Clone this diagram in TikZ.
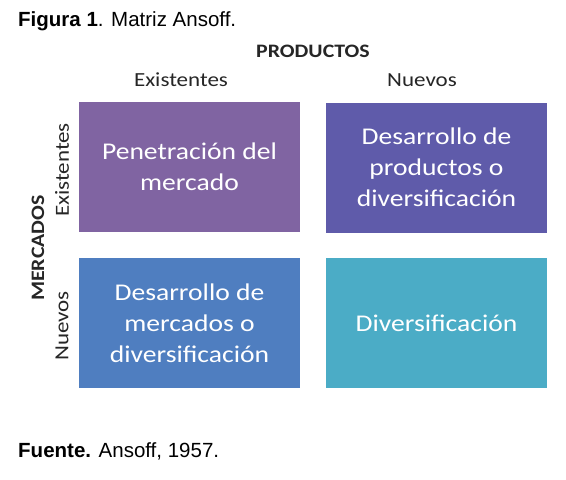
\documentclass[tikz,border=0pt]{standalone}
\usepackage{fontspec}
\setmainfont{Carlito}[FakeStretch=1.15]
\newfontfamily\arialfont{Liberation Sans}
\definecolor{morado}{HTML}{8064A2}
\definecolor{violeta}{HTML}{5F5BAA}
\definecolor{azul}{HTML}{4F7EC0}
\definecolor{turquesa}{HTML}{4BACC6}
\definecolor{texto}{HTML}{262626}
\tikzset{
	celda/.style={minimum width=221pt, minimum height=130pt, inner sep=0pt,
		text=white, align=center, font=\fontsize{24}{31}\selectfont},
	etiqueta/.style={text=texto, inner sep=0pt, font=\fontsize{20}{24}\selectfont},
	titulo/.style={text=texto, inner sep=0pt, font=\fontsize{19}{22}\selectfont\bfseries},
	pie/.style={anchor=base west, inner sep=0pt, font=\arialfont\fontsize{20.5}{24}\selectfont}
}
\begin{document}
\begin{tikzpicture}[x=1pt, y=-1pt]
		\useasboundingbox [fill=white] ( 0, 0 ) rectangle ( 566, 480 );

		% titulo de la figura
		\node [pie] (fig) at ( 18, 26 ) {\textbf{Figura 1}. Matriz Ansoff.};

		% ejes
		\node [titulo] (prod) at ( 313, 51 ) {PRODUCTOS};
		\node [etiqueta] (pexist) at ( 181, 80 ) {Existentes};
		\node [etiqueta] (pnuevo) at ( 422, 80 ) {Nuevos};
		\node [titulo, rotate=90] (merc) at ( 38, 248 ) {MERCADOS};
		\node [etiqueta, rotate=90] (mexist) at ( 62, 170 ) {Existentes};
		\node [etiqueta, rotate=90] (mnuevo) at ( 62, 326 ) {Nuevos};

		% cuadrantes
		\node [celda, fill=morado] (penet) at ( 189.5, 167 ) {Penetración del\\mercado};
		\node [celda, fill=violeta] (dprod) at ( 436.5, 167.5 ) {Desarrollo de\\productos o\\diversificación};
		\node [celda, fill=azul] (dmerc) at ( 189.5, 323 ) {Desarrollo de\\mercados o\\diversificación};
		\node [celda, fill=turquesa] (diver) at ( 436.5, 323 ) {Diversificación};

		% fuente
		\node [pie] (fuente) at ( 18, 457 ) {\textbf{Fuente.} Ansoff, 1957.};
\end{tikzpicture}
\end{document}
